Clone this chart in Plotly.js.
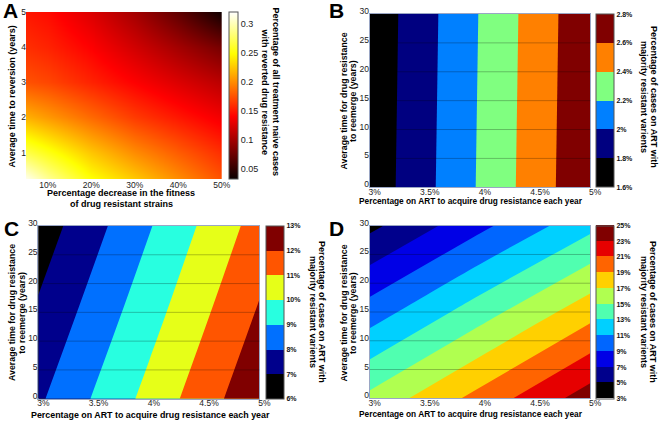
<!DOCTYPE html>
<html><head><meta charset="utf-8">
<script src="https://cdn.plot.ly/plotly-3.0.1.min.js"></script>
<style>html,body{margin:0;padding:0;background:#fff}</style>
</head><body><div id="chart" style="width:662px;height:422px"></div>
<script>
// ---------- Panel A: reverted drug resistance (heat map) ----------
const fitnessDecrease = [5, 10, 20, 30, 40, 50];          // % decrease in fitness
const reversionYears = [0.25, 1, 2, 3, 4, 5];             // years to reversion
const revertedShare = [                                    // rows follow reversionYears
  [0.315, 0.290, 0.250, 0.225, 0.200, 0.175],
  [0.270, 0.255, 0.225, 0.200, 0.180, 0.160],
  [0.215, 0.205, 0.185, 0.165, 0.150, 0.135],
  [0.175, 0.170, 0.155, 0.140, 0.125, 0.110],
  [0.160, 0.155, 0.140, 0.120, 0.100, 0.080],
  [0.150, 0.145, 0.125, 0.100, 0.070, 0.035]
];
const fitnessTickVals = [10, 20, 30, 40, 50];
const fitnessTickText = ['10%', '20%', '30%', '40%', '50%'];
const reversionTickVals = [1, 2, 3, 4, 5];
const revertedTickVals = [0.05, 0.1, 0.15, 0.2, 0.25, 0.3];
const revertedTickText = ['0.05', '0.1', '0.15', '0.2', '0.25', '0.3'];

// ---------- shared axes for B, C, D ----------
const acquireTickVals = [3, 3.5, 4, 4.5, 5];
const acquireTickText = ['3%', '3.5%', '4%', '4.5%', '5%'];
const reemergeTickVals = [0, 5, 10, 15, 20, 25, 30];

// ---------- Panel B ----------
const acquireRateB = [3, 3.5, 4, 4.5, 5];
const reemergeYearsB = [0, 30];
const majorityResistantB = [
  [1.670, 1.945, 2.221, 2.496, 2.772],
  [1.657, 1.932, 2.208, 2.483, 2.759]
];
const levelsB = [1.6, 1.8, 2.0, 2.2, 2.4, 2.6, 2.8];
const levelTextB = ['1.6%', '1.8%', '2%', '2.2%', '2.4%', '2.6%', '2.8%'];

// ---------- Panel C ----------
const acquireRateC = [3, 4, 5];
const reemergeYearsC = [0, 15, 30];
const majorityResistantC = [
  [7.84, 10.30, 12.80],
  [7.14, 9.60, 12.10],
  [6.44, 8.92, 11.42]
];
const levelsC = [6, 7, 8, 9, 10, 11, 12, 13];
const levelTextC = ['6%', '7%', '8%', '9%', '10%', '11%', '12%', '13%'];

// ---------- Panel D ----------
const acquireRateD = [3, 4, 5];
const reemergeYearsD = [0, 15, 30];
const majorityResistantD = [
  [15.50, 19.70, 24.00],
  [9.95, 14.10, 18.25],
  [4.50, 8.50, 12.45]
];
const levelsD = [3, 5, 7, 9, 11, 13, 15, 17, 19, 21, 23, 25];
const levelTextD = ['3%', '5%', '7%', '9%', '11%', '13%', '15%', '17%', '19%', '21%', '23%', '25%'];

// ---------- styles ----------
const W = 662, H = 422;
const px = v => v / W;
const py = v => 1 - v / H;
const FONT = 'Liberation Sans, Arial, sans-serif';

const bandColorsB = ['#000000', '#000080', '#0080ff', '#80ff80', '#ff8000', '#800000'];
const bandColorsC = ['#000000', '#00008c', '#0070ff', '#28ffe0', '#e6ff18', '#ff5500', '#800000'];
const bandColorsD = ['#000000', '#00008c', '#0000e6', '#0066ff', '#00d0ff', '#50ffb0',
                     '#b0ff50', '#ffd000', '#ff6400', '#e60000', '#800000'];
const hotScale = [[0, '#0b0000'], [0.375, '#ff0000'], [0.75, '#ffff00'], [1, '#ffffff']];

function stepScale(colors) {
  const n = colors.length, out = [];
  colors.forEach((c, k) => { out.push([k / n, c]); out.push([(k + 1) / n, c]); });
  return out;
}

function contourTrace(x, y, z, levels, text, colors, ax, cb) {
  const lo = levels[0], hi = levels[levels.length - 1];
  return {
    type: 'contour', x: x, y: y, z: z, xaxis: 'x' + ax, yaxis: 'y' + ax,
    zmin: lo, zmax: hi, autocontour: false,
    contours: {start: lo, end: hi, size: levels[1] - levels[0], coloring: 'fill', showlines: false},
    line: {width: 0},
    colorscale: stepScale(colors),
    colorbar: Object.assign({
      xref: 'paper', yref: 'paper', xanchor: 'left', yanchor: 'middle', lenmode: 'fraction',
      xpad: 0, ypad: 0, outlinewidth: 1, outlinecolor: '#555', ticks: '',
      tickvals: levels, ticktext: text,
      tickfont: {family: FONT, size: 7, color: '#111', weight: 'bold'}
    }, cb)
  };
}

const traces = [
  {
    type: 'heatmap', x: fitnessDecrease, y: reversionYears, z: revertedShare,
    xaxis: 'x', yaxis: 'y', zsmooth: 'best', colorscale: hotScale,
    zmin: 0.033, zmax: 0.32,
    colorbar: {
      xref: 'paper', yref: 'paper', x: px(228.7), xanchor: 'left', y: py(95.5), yanchor: 'middle',
      len: 167 / H, lenmode: 'fraction', thickness: 9, xpad: 0, ypad: 0,
      outlinewidth: 1, outlinecolor: '#555', ticks: '',
      tickvals: revertedTickVals, ticktext: revertedTickText,
      tickfont: {family: FONT, size: 9, color: '#222'}
    }
  },
  contourTrace(acquireRateB, reemergeYearsB, majorityResistantB, levelsB, levelTextB, bandColorsB, 2,
    {x: px(596.3), y: py(100.65), len: 173.3 / H, thickness: 18}),
  contourTrace(acquireRateC, reemergeYearsC, majorityResistantC, levelsC, levelTextC, bandColorsC, 3,
    {x: px(265.7), y: py(312.35), len: 172.7 / H, thickness: 18}),
  contourTrace(acquireRateD, reemergeYearsD, majorityResistantD, levelsD, levelTextD, bandColorsD, 4,
    {x: px(595.8), y: py(312), len: 172.6 / H, thickness: 18})
];

const tickFont = {family: FONT, size: 8.5, color: '#222'};
function xAx(domain, range, vals, text, anchor, line, standoff, shift) {
  return {domain: domain, range: range, anchor: anchor, tickvals: vals, ticktext: text,
    showgrid: false, zeroline: false, ticks: '', tickfont: tickFont,
    ticklabelstandoff: standoff, ticklabelshift: shift,
    showline: line, mirror: line, linecolor: '#9aa6c4', linewidth: 1};
}
function yAx(domain, range, vals, anchor, line, standoff, shift) {
  return {domain: domain, range: range, anchor: anchor, tickvals: vals,
    showgrid: false, zeroline: false, ticks: '', tickfont: tickFont,
    ticklabelstandoff: standoff, ticklabelshift: shift,
    showline: line, mirror: line, linecolor: '#9aa6c4', linewidth: 1};
}

const layout = {
  width: W, height: H, margin: {l: 0, r: 0, t: 0, b: 0},
  paper_bgcolor: '#fff', plot_bgcolor: '#fff', showlegend: false,
  font: {family: FONT, color: '#000'},
  xaxis: xAx([px(26), px(221.7)], [5, 50], fitnessTickVals, fitnessTickText, 'y', false, -1, 0),
  yaxis: yAx([py(179), py(12)], [0.25, 5], reversionTickVals, 'x', false, -1, 0),
  xaxis2: xAx([px(369.6), px(590.2)], [3, 5], acquireTickVals, acquireTickText, 'y2', true, -4, 5),
  yaxis2: yAx([py(187.3), py(14)], [0, 30], reemergeTickVals, 'x2', true, -2, -3),
  xaxis3: xAx([px(38.3), px(259.3)], [3, 5], acquireTickVals, acquireTickText, 'y3', true, -4, 5),
  yaxis3: yAx([py(398.7), py(226)], [0, 30], reemergeTickVals, 'x3', true, -2, -3),
  xaxis4: xAx([px(369.6), px(590.2)], [3, 5], acquireTickVals, acquireTickText, 'y4', true, -4, 5),
  yaxis4: yAx([py(398.3), py(225.7)], [0, 30], reemergeTickVals, 'x4', true, -2, -3),
  shapes: [],
  annotations: []
};

// faint horizontal grid lines drawn over the filled contours (B, C, D)
['2', '3', '4'].forEach(a => {
  reemergeTickVals.slice(1, -1).forEach(v => {
    layout.shapes.push({type: 'line', xref: 'x' + a + ' domain', yref: 'y' + a,
      x0: 0, x1: 1, y0: v, y1: v, layer: 'above',
      line: {color: 'rgba(0,0,0,0.25)', width: 1}});
  });
});

function ann(text, x, y, size, opts) {
  layout.annotations.push(Object.assign({
    text: text, xref: 'paper', yref: 'paper', x: px(x), y: py(y),
    xanchor: 'center', yanchor: 'middle', showarrow: false,
    font: {family: FONT, size: size, color: '#000', weight: 'bold'}
  }, opts || {}));
}
// panel letters
ann('A', 10, 11, 21);
ann('B', 336, 10, 21);
ann('C', 11, 228, 21);
ann('D', 336, 228, 21);

// titles (one annotation per line)
const cbTitle1 = 'Percentage of cases on ART with';
const cbTitle2 = 'majority resistant varients';
const yTitle1 = 'Average time for drug resistance';
const yTitle2 = 'to reemerge (years)';
const xTitleArt = 'Percentage on ART to acquire drug resistance each year';

// A
ann('Percentage decrease in the fitness', 121, 193.5, 9);
ann('of drug resistant strains', 121, 203.5, 9);
ann('Average time to reversion (years)', 11.5, 97, 9, {textangle: -90});
ann('Percentage of all treatment naive cases', 275.5, 92, 9, {textangle: 90});
ann('with reverted drug resistance', 264.5, 92, 9, {textangle: 90});
// B
ann(yTitle1, 343.5, 101, 8.8, {textangle: -90});
ann(yTitle2, 353, 101, 8.8, {textangle: -90});
ann(xTitleArt, 471, 200.5, 8.3);
ann(cbTitle1, 654, 97, 9, {textangle: 90});
ann(cbTitle2, 644, 97, 9, {textangle: 90});
// C
ann(yTitle1, 12, 313, 8.8, {textangle: -90});
ann(yTitle2, 21.7, 313, 8.8, {textangle: -90});
ann(xTitleArt, 150, 414.5, 8.9);
ann(cbTitle1, 322, 312, 9, {textangle: 90});
ann(cbTitle2, 313, 312, 9, {textangle: 90});
// D
ann(yTitle1, 343.5, 313, 8.8, {textangle: -90});
ann(yTitle2, 353, 313, 8.8, {textangle: -90});
ann(xTitleArt, 471, 414, 8.3);
ann(cbTitle1, 653, 312, 9, {textangle: 90});
ann(cbTitle2, 644, 312, 9, {textangle: 90});

Plotly.newPlot('chart', traces, layout, {displayModeBar: false, staticPlot: true});
</script>
</body></html>
